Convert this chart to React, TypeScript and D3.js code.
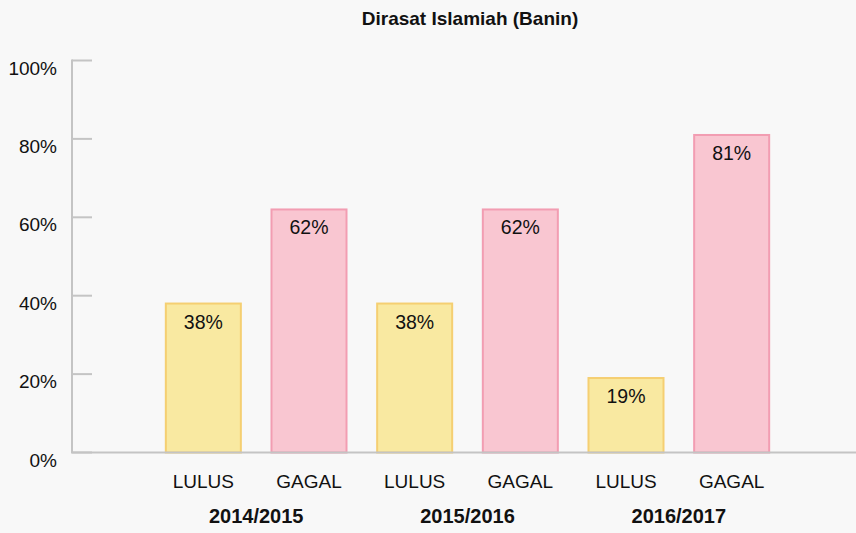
import React from "react";
import * as d3 from "d3";

const categories = ["LULUS", "GAGAL", "LULUS", "GAGAL", "LULUS", "GAGAL"];
const years = ["2014/2015", "2015/2016", "2016/2017"];
const values = [38, 62, 38, 62, 19, 81];
const yTicks = [0, 20, 40, 60, 80, 100];
const title = "Dirasat Islamiah (Banin)";

const W = 856;
const H = 533;
const FONT = "'Liberation Sans', Arial, Helvetica, sans-serif";

export default function App() {
  const y = d3.scaleLinear().domain([0, 100]).range([452.5, 60.5]);
  const idx = values.map((_, i) => String(i));
  const x = d3
    .scaleBand<string>()
    .domain(idx)
    .range([150.5, 784.5])
    .paddingInner(0.29)
    .paddingOuter(0.145);
  const bw = x.bandwidth();
  const axisX = 72;

  return (
    <svg
      width={W}
      height={H}
      style={{ position: "absolute", left: 0, top: 0, display: "block" }}
    >
      <rect x={0} y={0} width={W} height={H} fill="#f8f8f8" />
      <text
        x={470}
        y={25}
        textAnchor="middle"
        fontFamily={FONT}
        fontWeight="bold"
        fontSize={19}
        fill="#111"
      >
        {title}
      </text>
      {/* y axis */}
      <line x1={axisX} x2={axisX} y1={y(100) - 1} y2={y(0)} stroke="#c4c4c4" strokeWidth={2} />
      {yTicks.map((t) => (
        <g key={t}>
          <line x1={axisX} x2={92} y1={y(t)} y2={y(t)} stroke="#c4c4c4" strokeWidth={2} />
          <text
            x={57}
            y={y(t) + 14}
            textAnchor="end"
            fontFamily={FONT}
            fontSize={19}
            fill="#111"
          >
            {t}%
          </text>
        </g>
      ))}
      {/* bars */}
      {values.map((v, i) => {
        const isPass = categories[i] === "LULUS";
        const x0 = x(String(i))!;
        return (
          <g key={i}>
            <rect
              x={x0}
              y={y(v)}
              width={bw}
              height={y(0) - y(v)}
              fill={isPass ? "#f9e9a1" : "#f9c6d1"}
              stroke={isPass ? "#f5cf72" : "#f29db2"}
              strokeWidth={2}
            />
            <text
              x={x0 + bw / 2}
              y={y(v) + 25}
              textAnchor="middle"
              fontFamily={FONT}
              fontSize={19.5}
              fill="#111"
            >
              {v}%
            </text>
            <text
              x={x0 + bw / 2}
              y={488}
              textAnchor="middle"
              fontFamily={FONT}
              fontSize={19}
              fill="#111"
            >
              {categories[i]}
            </text>
          </g>
        );
      })}
      {/* baseline */}
      <line x1={axisX - 1} x2={W} y1={y(0)} y2={y(0)} stroke="#c4c4c4" strokeWidth={2} />
      {years.map((yr, j) => {
        const a = x(String(j * 2))!;
        const b = x(String(j * 2 + 1))!;
        const cx = (a + b + bw) / 2;
        return (
          <text
            key={yr}
            x={cx}
            y={523}
            textAnchor="middle"
            fontFamily={FONT}
            fontWeight="bold"
            fontSize={20}
            fill="#111"
          >
            {yr}
          </text>
        );
      })}
    </svg>
  );
}
